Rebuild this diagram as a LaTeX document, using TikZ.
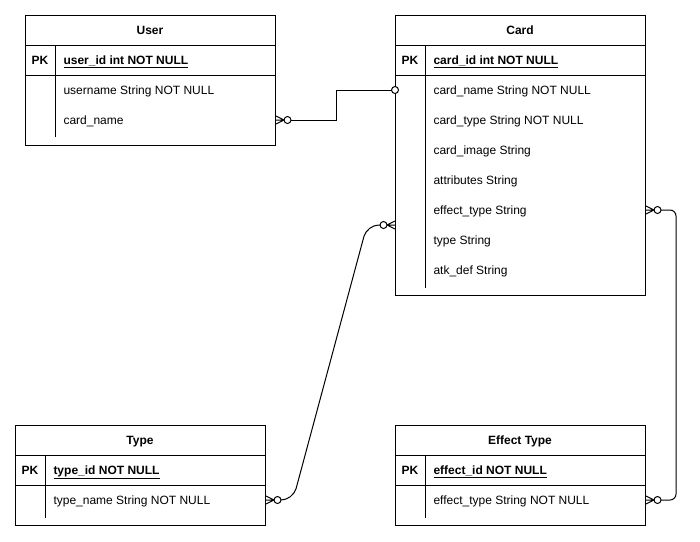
\documentclass[tikz,border=0pt]{standalone}
\usepackage{fontspec}
\setmainfont{Liberation Sans}
\usetikzlibrary{calc}

\newcommand{\erfont}{\fontsize{12}{14}\selectfont}

\tikzset{
  tbl/.style={draw, anchor=north west, minimum width=250pt, inner sep=0pt},
  hdr/.style={anchor=base, yshift=-4.5pt, inner sep=0pt, font=\erfont\bfseries},
  row/.style={anchor=base west, yshift=-4.5pt, inner sep=0pt, font=\erfont},
  keyrow/.style={row, font=\erfont\bfseries},
  zeromany/.pic={\draw (0,-4) -- (8,0) (0,0) -- (8,0) (0,4) -- (8,0);
                 \draw[fill=white] (11.5,0) circle (3.5pt);},
}

\begin{document}
\begin{tikzpicture}[x=1pt, y=-1pt, line width=1pt]
\useasboundingbox (0,0) rectangle (700,541);

% User
\node[tbl, minimum height=130pt] (user) at (25,15) {};
\draw (25,45) -- (275,45) (25,75) -- (275,75) (55,45) -- (55,137);
\node[hdr] (user-t) at (150,30) {User};
\node[hdr] (user-pk) at (40,60) {PK};
\node[keyrow] (user-id) at (63,60) {\underline{user\_id int NOT NULL}};
\node[row] (user-un) at (63,90) {username String NOT NULL};
\node[row] (user-cn) at (63,120) {card\_name};

% Card
\node[tbl, minimum height=280pt] (card) at (395,15) {};
\draw (395,45) -- (645,45) (395,75) -- (645,75) (425,45) -- (425,288);
\node[hdr] (card-t) at (520,30) {Card};
\node[hdr] (card-pk) at (410,60) {PK};
\node[keyrow] (card-id) at (433,60) {\underline{card\_id int NOT NULL}};
\node[row] (card-cn) at (433,90) {card\_name String NOT NULL};
\node[row] (card-ct) at (433,120) {card\_type String NOT NULL};
\node[row] (card-ci) at (433,150) {card\_image String};
\node[row] (card-at) at (433,180) {attributes String};
\node[row] (card-et) at (433,210) {effect\_type String};
\node[row] (card-ty) at (433,240) {type String};
\node[row] (card-ad) at (433,270) {atk\_def String};
\coordinate (card-tp) at (395,225);

% Type
\node[tbl, minimum height=100pt] (type) at (15,425) {};
\draw (15,455) -- (265,455) (15,485) -- (265,485) (45,455) -- (45,518);
\node[hdr] (type-t) at (140,440) {Type};
\node[hdr] (type-pk) at (30,470) {PK};
\node[keyrow] (type-id) at (53,470) {\underline{type\_id NOT NULL}};
\node[row] (type-nm) at (53,500) {type\_name String NOT NULL};

% Effect Type
\node[tbl, minimum height=100pt] (eff) at (395,425) {};
\draw (395,455) -- (645,455) (395,485) -- (645,485) (425,455) -- (425,518);
\node[hdr] (eff-t) at (520,440) {Effect Type};
\node[hdr] (eff-pk) at (410,470) {PK};
\node[keyrow] (eff-id) at (433,470) {\underline{effect\_id NOT NULL}};
\node[row] (eff-et) at (433,500) {effect\_type String NOT NULL};

% relations
\coordinate (u-cn) at (user.east |- 0,120);
\coordinate (c-cn) at (card.west |- 0,90);
\coordinate (c-et) at (card.east |- 0,210);
\coordinate (e-et) at (eff.east |- 0,500);
\coordinate (t-nm) at (type.east |- 0,500);

\pic at (u-cn) {zeromany};
\draw ($(u-cn)+(15,0)$) -- ++(45,0) |- ($(c-cn)+(-3.5,0)$);
\draw[fill=white] (c-cn) circle (3.5pt);

\draw[rounded corners=6pt] ($(c-et)+(15,0)$) -- ++(15,0) |- ($(e-et)+(15,0)$);
\pic at (c-et) {zeromany};
\pic at (e-et) {zeromany};

\draw[rounded corners=12pt] ($(t-nm)+(15,0)$) -- ++(12,0) -- ($(card-tp)+(-28,0)$) -- ($(card-tp)+(-15,0)$);
\pic at (t-nm) {zeromany};
\pic[rotate=180] at (card-tp) {zeromany};
\end{tikzpicture}
\end{document}
